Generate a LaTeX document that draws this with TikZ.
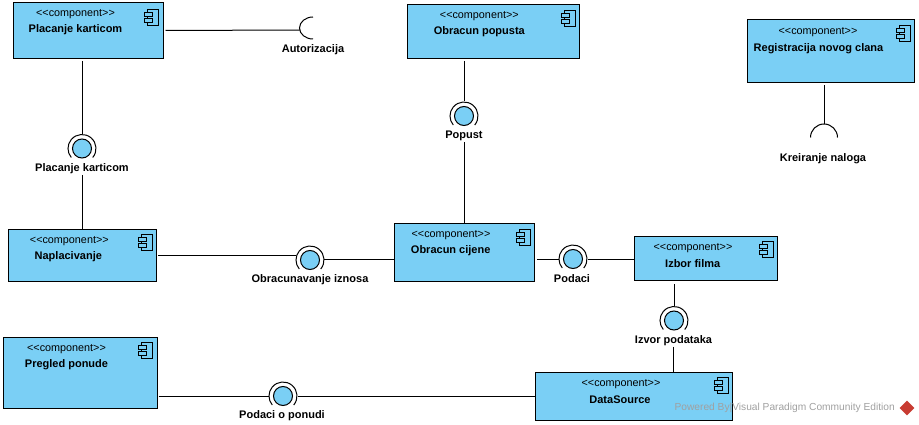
\documentclass[tikz,border=0pt]{standalone}
\usepackage{fontspec}
\usetikzlibrary{calc,shapes.geometric}
\setmainfont{Liberation Sans}
\definecolor{compblue}{RGB}{122,207,245}
\definecolor{markgray}{RGB}{160,160,160}
\definecolor{markred}{RGB}{200,60,50}
\tikzset{
  compbox/.style={draw=black, fill=compblue, line width=1pt, rectangle, inner sep=0pt},
  stereo/.style={font=\fontsize{10.8}{12}\selectfont, inner sep=0pt, yshift=-1pt},
  compname/.style={font=\fontsize{11}{12}\selectfont\bfseries, inner sep=0pt, yshift=-1.5pt},
  ifacename/.style={font=\fontsize{11}{12}\selectfont\bfseries, fill=white, inner sep=1pt, yshift=-1.5pt},
  ball/.style={draw=black, fill=compblue, line width=1pt, circle, minimum size=19pt, inner sep=0pt},
  conn/.style={line width=1pt}
}
% ikona komponente
\newcommand{\compicon}[1]{
  \draw[line width=0.8pt] ($(#1)+(-2,-8)$) rectangle ($(#1)+(9,8)$);
  \draw[line width=0.8pt, fill=compblue] ($(#1)+(-5,-5)$) rectangle ($(#1)+(3,-1)$);
  \draw[line width=0.8pt, fill=compblue] ($(#1)+(-5,1)$) rectangle ($(#1)+(3,5)$);
}
% prsten oko kruga
\newcommand{\ring}[1]{
  \fill[white] (#1) circle (14);
  \draw[line width=1pt] (#1) ++(40:14) arc (40:-220:14);
}
\begin{document}
\begin{tikzpicture}[x=1pt,y=-1pt]
  \useasboundingbox (0,0) rectangle (919,425);

  % Komponente
  \node[compbox, minimum width=150, minimum height=56] (placanje) at (88,30.5) {};
  \node[compbox, minimum width=172, minimum height=54] (popust) at (493,31.3) {};
  \node[compbox, minimum width=167, minimum height=63] (registracija) at (830.5,51.5) {};
  \node[compbox, minimum width=148.4, minimum height=52] (naplacivanje) at (82.5,255) {};
  \node[compbox, minimum width=140, minimum height=58] (cijena) at (464.3,252) {};
  \node[compbox, minimum width=143.4, minimum height=44.3] (izbor) at (706,258.8) {};
  \node[compbox, minimum width=154, minimum height=71] (pregled) at (80,372.5) {};
  \node[compbox, minimum width=197, minimum height=48] (datasource) at (633.5,396) {};

  % Stereotipi
  \node[stereo] (s1) at (75.5,13) {<{}<component>{}>};
  \node[stereo] (s2) at (479.3,15) {<{}<component>{}>};
  \node[stereo] (s3) at (818,31) {<{}<component>{}>};
  \node[stereo] (s4) at (69.3,240) {<{}<component>{}>};
  \node[stereo] (s5) at (451,234) {<{}<component>{}>};
  \node[stereo] (s6) at (693,247) {<{}<component>{}>};
  \node[stereo] (s7) at (66.5,348) {<{}<component>{}>};
  \node[stereo] (s8) at (621,383) {<{}<component>{}>};

  % Nazivi
  \node[compname] (n1) at (75.5,28) {Placanje karticom};
  \node[compname] (n2) at (479.3,30) {Obracun popusta};
  \node[compname] (n3) at (818.5,47) {Registracija novog clana};
  \node[compname] (n4) at (68.3,255) {Naplacivanje};
  \node[compname] (n5) at (450.7,249) {Obracun cijene};
  \node[compname] (n6) at (692.7,262) {Izbor filma};
  \node[compname] (n7) at (66.5,363) {Pregled ponude};
  \node[compname] (n8) at (620,398) {DataSource};

  % Ikone
  \compicon{149,17}
  \compicon{566,18}
  \compicon{901,33.5}
  \compicon{143,242.5}
  \compicon{521,237.5}
  \compicon{764,249.5}
  \compicon{143,350.5}
  \compicon{719,385}

  % Kruzici
  \ring{82,148.5}
  \ring{464,116}
  \ring{310,260}
  \ring{573,259}
  \ring{674,320.5}
  \ring{283,396}
  \node[ball] (b1) at (82,148.5) {};
  \node[ball] (b2) at (464,116) {};
  \node[ball] (b3) at (310,260) {};
  \node[ball] (b4) at (573,259) {};
  \node[ball] (b5) at (674,320.5) {};
  \node[ball] (b6) at (283,396) {};

  % Natpisi
  \node[ifacename] (i1) at (82,167) {Placanje karticom};
  \node[ifacename] (i2) at (464,134.5) {Popust};
  \node[ifacename] (i3) at (310,278) {Obracunavanje iznosa};
  \node[ifacename] (i4) at (572,277) {Podaci};
  \node[ifacename] (i5) at (673.5,339) {Izvor podataka};
  \node[ifacename] (i6) at (282,414) {Podaci o ponudi};
  \node[ifacename] (i7) at (313,48) {Autorizacija};
  \node[ifacename] (i8) at (823,157) {Kreiranje naloga};

  % Prazni krajevi
  \coordinate (c1) at (300,30);
  \coordinate (c2) at (824,124);

  % Veze
  \draw[conn] ($(placanje.east)+(2,0)$) -- (c1);
  \draw[conn] ($(b1 |- placanje.south)+(0,2)$) -- ($(b1.north)+(0,-4.5)$);
  \draw[conn] (i1.south) -- (b1 |- naplacivanje.north);
  \draw[conn] ($(b2 |- popust.south)+(0,2)$) -- ($(b2.north)+(0,-4.5)$);
  \draw[conn] (i2.south) -- (b2 |- cijena.north);
  \draw[conn] ($(naplacivanje.east)+(1,0)$) -- ($(b3.west |- naplacivanje.east)+(-4,0)$);
  \draw[conn] ($(b3.east)+(4,-1)$) -- ($(cijena.west |- b3)+(0,-1)$);
  \draw[conn] ($(cijena.east |- b4)+(2,0)$) -- ($(b4.west)+(-4.5,0)$);
  \draw[conn] ($(b4.east)+(4.5,0)$) -- (izbor.west |- b4);
  \draw[conn] ($(b5 |- izbor.south)+(0,3)$) -- ($(b5.north)+(0,-4.5)$);
  \draw[conn] (i5.south) -- (i5.south |- datasource.north);
  \draw[conn] ($(pregled.east |- b6)+(1,0)$) -- ($(b6.west)+(-4.5,0)$);
  \draw[conn] ($(b6.east)+(4.5,0)$) -- (datasource.west |- b6);
  \draw[conn] ($(c2 |- registracija.south)+(0,2)$) -- (c2);

  % Polukrugovi
  \draw[conn] (313,17) arc (-90:-270:13.5 and 11);
  \draw[conn] (810.5,137.5) arc (180:360:13.5 and 13.5);

  % Oznaka
  \node[font=\fontsize{10.2}{12}\selectfont, text=markgray, inner sep=0pt, anchor=east] (mark) at (895,408) {Powered By\textbar Visual Paradigm Community Edition};
  \node[diamond, fill=markred, minimum size=15, inner sep=0pt] (logo) at (907,408) {};
\end{tikzpicture}
\end{document}
